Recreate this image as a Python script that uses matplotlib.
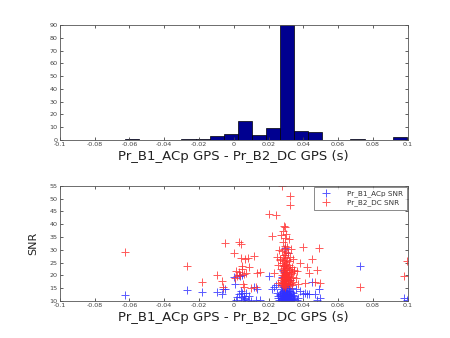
import numpy as np
import matplotlib
matplotlib.use("Agg")
import matplotlib.pyplot as plt

# ---- data: time difference (s) and SNRs of each coincident event ----
x_side = [-0.0625, -0.0270, -0.0185, -0.0098, -0.0068, -0.0062,
          -0.0050, 0.0000, 0.0005, 0.0012, 0.0020,
          0.0028, 0.0032, 0.0035, 0.0040, 0.0043, 0.0046, 0.0050, 0.0053,
          0.0057, 0.0060, 0.0065, 0.0072, 0.0080, 0.0090, 0.0100,
          0.0117, 0.0125, 0.0135, 0.0148,
          0.0205, 0.0222, 0.0232, 0.0240, 0.0248, 0.0252, 0.0256, 0.0260, 0.0263,
          0.0355, 0.0362, 0.0370, 0.0382, 0.0396, 0.0410, 0.0420,
          0.0432, 0.0450, 0.0468, 0.0480, 0.0490, 0.0497,
          0.0725, 0.0980, 0.0995]
acp_side = [12.3, 14.3, 13.6, 13.6, 12.5, 14.8,
            14.6, 19.3, 16.6, 10.5, 11.5,
            20.0, 12.6, 19.8, 11.5, 14.0, 13.2, 20.3, 10.2, 12.0, 11.2,
            10.6, 13.0, 10.4, 11.8, 10.1,
            15.5, 10.2, 14.6, 10.5,
            19.6, 14.5, 15.5, 16.0, 13.0, 12.0, 11.0, 10.5, 12.5,
            14.5, 10.5, 11.0, 14.0, 12.5, 13.0, 12.8,
            12.5, 17.2, 12.5, 10.5, 14.5, 11.3,
            23.8, 11.2, 10.3]
dc_side = [29.2, 23.7, 17.4, 20.3, 17.6, 15.3,
           32.6, 28.9, 18.9, 21.6, 19.6,
           33.1, 21.3, 20.3, 32.4, 26.6, 22.4, 23.7, 16.5, 15.5, 20.6,
           26.2, 21.0, 26.8, 23.1, 15.2,
           27.5, 15.5, 20.8, 21.1,
           44.0, 35.5, 21.0, 43.6, 27.0, 24.0, 17.0, 30.0, 26.0,
           19.0, 21.5, 16.5, 25.0, 31.0, 17.0, 23.3,
           20.7, 26.4, 17.2, 22.0, 30.8, 17.0,
           15.5, 19.6, 25.7]

x_peak = [0.0268, 0.0270, 0.0272, 0.0273, 0.0275, 0.0276, 0.0277, 0.0278, 0.0279, 0.0280,
          0.0280, 0.0281, 0.0282, 0.0282, 0.0283, 0.0284, 0.0284, 0.0285, 0.0285, 0.0286,
          0.0286, 0.0287, 0.0287, 0.0288, 0.0288, 0.0289, 0.0289, 0.0290, 0.0290, 0.0290,
          0.0291, 0.0291, 0.0292, 0.0292, 0.0293, 0.0293, 0.0294, 0.0294, 0.0295, 0.0295,
          0.0296, 0.0296, 0.0297, 0.0297, 0.0298, 0.0298, 0.0299, 0.0300, 0.0300, 0.0301,
          0.0301, 0.0302, 0.0303, 0.0303, 0.0304, 0.0305, 0.0305, 0.0306, 0.0307, 0.0308,
          0.0309, 0.0310, 0.0311, 0.0312, 0.0313, 0.0314, 0.0315, 0.0316, 0.0317, 0.0318,
          0.0319, 0.0320, 0.0321, 0.0322, 0.0323, 0.0324, 0.0325, 0.0326, 0.0327, 0.0328,
          0.0330, 0.0331, 0.0333, 0.0334, 0.0336, 0.0338, 0.0340, 0.0342, 0.0344, 0.0346]
acp_peak = [12.1, 10.4, 14.8, 11.2, 13.5, 10.2, 16.2, 11.8, 10.6, 19.5,
            12.7, 10.3, 22.0, 13.9, 11.0, 10.1, 15.4, 12.3, 10.8, 17.8,
            11.5, 10.2, 13.1, 10.5, 21.2, 12.0, 14.3, 10.1, 11.3, 16.8,
            10.7, 12.9, 10.3, 18.6, 11.6, 13.7, 10.4, 15.0, 12.4, 10.9,
            30.6, 11.1, 14.1, 10.2, 12.6, 17.0, 10.5, 11.9, 13.3, 10.1,
            20.4, 12.2, 10.8, 15.8, 11.4, 10.3, 13.0, 12.5, 10.6, 14.6,
            11.0, 28.7, 10.2, 12.8, 16.4, 10.9, 11.7, 13.8, 10.4, 12.1,
            10.7, 15.2, 11.3, 10.1, 14.0, 12.7, 10.5, 18.2, 11.2, 13.4,
            10.3, 12.0, 10.8, 14.9, 11.5, 10.2, 13.2, 12.4, 10.6, 11.8]
dc_peak = [26.5, 18.2, 22.4, 35.8, 16.5, 20.3, 29.6, 17.4, 24.8, 55.0,
           19.1, 27.2, 15.8, 21.6, 33.2, 18.8, 23.5, 16.9, 37.2, 20.0,
           25.7, 17.6, 30.4, 19.6, 22.9, 39.2, 16.2, 28.0, 18.5, 21.0,
           24.2, 17.1, 31.5, 19.9, 26.8, 15.5, 22.1, 38.8, 18.0, 23.8,
           20.6, 27.9, 16.7, 34.6, 19.3, 25.1, 17.8, 21.9, 29.1, 18.4,
           36.0, 20.9, 16.0, 24.5, 19.0, 22.7, 31.0, 17.3, 26.0, 20.2,
           18.7, 23.1, 19.4, 16.4, 28.6, 19.7, 21.4, 24.0, 17.9, 25.4,
           34.2, 20.5, 18.1, 22.6, 16.6, 27.0, 51.0, 47.5, 17.0, 30.1,
           21.2, 18.9, 23.4, 16.3, 20.8, 19.2, 26.2, 17.5, 22.2, 21.7]

n_bins = 20
x_ticks = [-0.1, -0.08, -0.06, -0.04, -0.02, 0, 0.02, 0.04, 0.06, 0.08, 0.1]
x_tick_labels = ["-0.1", "-0.08", "-0.06", "-0.04", "-0.02", "0",
                 "0.02", "0.04", "0.06", "0.08", "0.1"]
hist_yticks = [0, 10, 20, 30, 40, 50, 60, 70, 80, 90]
snr_yticks = [10, 15, 20, 25, 30, 35, 40, 45, 50, 55]
xlabel = "Pr_B1_ACp GPS - Pr_B2_DC GPS (s)"

dt = np.array(x_side + x_peak)
snr_acp = np.array(acp_side + acp_peak)
snr_dc = np.array(dc_side + dc_peak)

# ---- figure ----
fig = plt.figure(figsize=(4.5, 3.38), dpi=100)
tick_col = "#444444"

def style(ax):
    ax.tick_params(direction="in", length=2.5, width=0.6, labelsize=4.6,
                   colors=tick_col, top=True, right=True, pad=1.5)
    for s in ax.spines.values():
        s.set_color("#555555")
        s.set_linewidth(0.6)
    ax.set_xlim(-0.1, 0.1)
    ax.set_xticks(x_ticks)
    ax.set_xticklabels(x_tick_labels)

ax1 = fig.add_axes([0.133, 0.586, 0.773, 0.340])
ax1.hist(dt, bins=n_bins, color="#000090", edgecolor="black", linewidth=0.5)
ax1.set_ylim(0, 90)
ax1.set_yticks(hist_yticks)
style(ax1)
ax1.set_xlabel(xlabel, fontsize=9.5, labelpad=2, color="#222222")

ax2 = fig.add_axes([0.133, 0.110, 0.773, 0.340])
ax2.plot(dt, snr_acp, linestyle="none", marker="+", color="#3030ff",
         markersize=5.5, markeredgewidth=0.7, alpha=0.8, label="Pr_B1_ACp SNR")
ax2.plot(dt, snr_dc, linestyle="none", marker="+", color="#ff3030",
         markersize=5.5, markeredgewidth=0.7, alpha=0.8, label="Pr_B2_DC SNR")
ax2.set_ylim(10, 55)
ax2.set_yticks(snr_yticks)
style(ax2)
ax2.set_xlabel(xlabel, fontsize=9.5, labelpad=2, color="#222222")
ax2.set_ylabel("SNR", fontsize=8, labelpad=8, color="#222222")
leg = ax2.legend(loc="upper right", fontsize=5.2, frameon=True, fancybox=False,
                 borderpad=0.5, handlelength=2.5, labelspacing=0.25,
                 borderaxespad=0.15, handletextpad=1.6)
leg.get_frame().set_edgecolor("#555555")
leg.get_frame().set_linewidth(0.6)
for t in leg.get_texts():
    t.set_color("#333333")

fig.savefig("out.png", dpi=100)
